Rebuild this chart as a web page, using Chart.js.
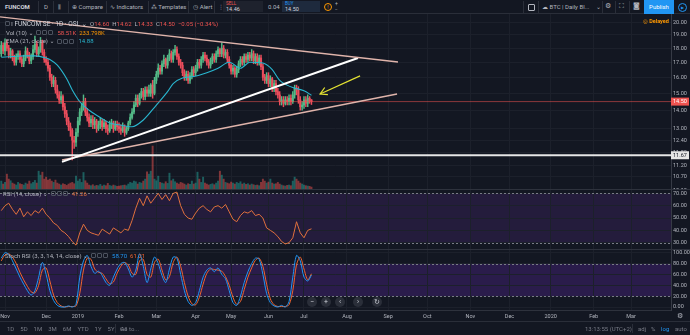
<!DOCTYPE html>
<html lang="es">
<head>
<meta charset="utf-8">
<title>FUNCOM SE · 1D · OSL</title>
<script src="https://cdn.jsdelivr.net/npm/chart.js@4.4.1/dist/chart.umd.min.js"></script>
<style>
  html, body { margin: 0; padding: 0; }
  body {
    width: 690px; height: 335px; position: relative; overflow: hidden;
    background: #131722; color: #b2b5be;
    font-family: Roboto, "Open Sans", "DejaVu Sans", sans-serif; font-size: 6px;
  }
  canvas { position: absolute; left: 0; }
  .t { position: absolute; white-space: nowrap; line-height: 7px; }
  .sep { position: absolute; background: #2a2e39; }
  .ico { display: inline-block; width: 3px; height: 3px; border: 1px solid #4c525e; border-radius: 1px; margin-right: 1px; vertical-align: -0.5px; }
  #top { position: absolute; left: 0; top: 0; width: 690px; height: 13px; background: #131722; border-bottom: 1px solid #2a2e39; }
  .btn { position: absolute; top: 3px; font-size: 6px; line-height: 7px; white-space: nowrap; color: #b2b5be; }
  .vs { position: absolute; top: 1px; width: 1px; height: 12px; background: #2a2e39; }
  .zb { position: absolute; top: 297px; width: 10px; height: 10px; border-radius: 50%; background: #2a2e39; color: #d1d4dc; font-size: 7px; line-height: 10px; text-align: center; }
</style>
</head>
<body>

<!-- ── barra superior ── -->
<div id="top">
  <div class="btn" style="left:5px;font-weight:bold;color:#d1d4dc">FUNCOM</div>
  <div class="vs" style="left:38px"></div>
  <div class="btn" style="left:44px">D</div>
  <div class="vs" style="left:53px"></div>
  <div class="btn" style="left:58px">⫼</div>
  <div class="vs" style="left:68px"></div>
  <div class="btn" style="left:72px">⊕ Compare</div>
  <div class="vs" style="left:106px"></div>
  <div class="btn" style="left:110px">∿ Indicators</div>
  <div class="vs" style="left:148px"></div>
  <div class="btn" style="left:151px">⁂ Templates</div>
  <div class="vs" style="left:188px"></div>
  <div class="btn" style="left:193px">◷ Alert</div>
  <div class="vs" style="left:214px"></div>
  <div class="btn" style="left:218px">⋮</div>
  <div style="position:absolute;left:223px;top:1px;width:40px;height:11px;background:#1e222d"></div>
  <div class="btn" style="left:226px;top:1px;font-size:4.5px;line-height:5px;color:#ef5350">SELL</div>
  <div class="btn" style="left:226px;top:6px;font-size:5.5px;line-height:6px;color:#d1d4dc">14.46</div>
  <div class="btn" style="left:268px">0.04</div>
  <div style="position:absolute;left:282px;top:1px;width:38px;height:11px;background:#1e2a3d"></div>
  <div class="btn" style="left:285px;top:1px;font-size:4.5px;line-height:5px;color:#2196f3">BUY</div>
  <div class="btn" style="left:285px;top:6px;font-size:5.5px;line-height:6px;color:#d1d4dc">14.50</div>
  <div style="position:absolute;left:324px;top:3px;width:6px;height:6px;border:1px solid #ff9800;border-radius:50%;color:#ff9800;font-size:5px;line-height:6px;text-align:center">!</div>
  <div class="btn" style="left:335px;top:0px;font-size:5px">+</div>
  <div class="btn" style="left:335px;top:6px;font-size:5px">−</div>

  <div class="vs" style="left:523px"></div>
  <div style="position:absolute;left:528px;top:4px;width:5px;height:5px;border:1px solid #b2b5be;border-radius:1px"></div>
  <div class="vs" style="left:538px"></div>
  <div class="btn" style="left:542px">☁ BTC | Daily Bl...</div>
  <div class="btn" style="left:596px">⌄</div>
  <div class="vs" style="left:602px"></div>
  <div class="btn" style="left:605px;font-size:7px">⚙</div>
  <div class="vs" style="left:615px"></div>
  <div class="btn" style="left:619px;font-size:7px">⛶</div>
  <div class="vs" style="left:629px"></div>
  <div class="btn" style="left:633px;font-size:7px">◙</div>
  <div style="position:absolute;left:644px;top:0;width:30px;height:14px;background:#2196f3;color:#fff;font-size:6px;line-height:14px;text-align:center">Publish</div>
  <div style="position:absolute;left:678px;top:3px;width:7px;height:7px;border:1px solid #2196f3;border-radius:50%;color:#2196f3;font-size:4px;line-height:7px;text-align:center">▶</div>
</div>

<canvas id="priceCanvas" width="690" height="175" style="top:14px"></canvas>
<div class="sep" style="left:0;top:189px;width:690px;height:1px;background:#2e323d"></div>
<canvas id="rsiCanvas" width="690" height="59" style="top:190px"></canvas>
<div class="sep" style="left:0;top:249px;width:690px;height:1px;background:#2e323d"></div>
<canvas id="stochCanvas" width="690" height="72" style="top:250px"></canvas>

<!-- ── leyendas ── -->
<div class="t" style="left:5px;top:19.5px"><span class="ico"></span><span style="color:#d1d4dc">⁞</span>
  <span style="color:#d1d4dc;font-size:6.5px">FUNCOM SE · 1D · OSL ⌄</span>&nbsp;
  <span>O</span><span style="color:#ef5350">14.60</span>&nbsp;
  <span>H</span><span style="color:#ef5350">14.62</span>&nbsp;
  <span>L</span><span style="color:#ef5350">14.33</span>&nbsp;
  <span>C</span><span style="color:#ef5350">14.50</span>&nbsp;
  <span style="color:#ef5350">−0.05 (−0.34%)</span></div>
<div class="t" style="left:6px;top:28.5px">Vol (10) ⌄&nbsp;&nbsp;<span class="ico"></span><span class="ico"></span><span class="ico"></span>&nbsp;
  <span style="color:#ef5350">58.51K</span>&nbsp; <span style="color:#ff9800">233.798K</span></div>
<div class="t" style="left:6px;top:37px">EMA (21, close) ⌄&nbsp;&nbsp;<span class="ico"></span><span class="ico"></span><span class="ico"></span>&nbsp;
  <span style="color:#29b6cf">14.88</span></div>
<div class="t" style="left:643px;top:17.5px;color:#ff9800;font-weight:bold;font-size:5.5px">◎ Delayed</div>

<div class="t" style="left:3px;top:189.5px">RSI (14, close) ⌄&nbsp;&nbsp;<span class="ico"></span><span class="ico"></span><span class="ico"></span>&nbsp;
  <span style="color:#e0703c">41.26</span></div>
<div class="t" style="left:5px;top:251.5px">Stoch RSI (3, 3, 14, 14, close) ⌄&nbsp;&nbsp;<span class="ico"></span><span class="ico"></span><span class="ico"></span>&nbsp;
  <span style="color:#2196f3">58.70</span>&nbsp; <span style="color:#f0642f">61.21</span></div>

<div class="zb" style="left:307px">−</div>
<div class="zb" style="left:321px">+</div>
<div class="zb" style="left:335px">‹</div>
<div class="zb" style="left:353px">›</div>
<div class="zb" style="left:372px">↻</div>
<div class="t" style="left:677px;top:312.5px;font-size:7px">⚙</div>

<!-- ── barra inferior ── -->
<div class="sep" style="left:0;top:321px;width:690px;height:1px"></div>
<div class="t" style="left:7px;top:325px;color:#787b86;word-spacing:4.5px">1D 5D 1M 3M 6M YTD 1Y 5Y All</div>
<div class="vs" style="left:115px;top:324px;height:9px"></div>
<div class="t" style="left:120px;top:325px;color:#787b86">Go to...</div>
<div class="t" style="left:585px;top:325px;color:#787b86">13:13:55 (UTC+2)</div>
<div class="vs" style="left:632px;top:324px;height:9px"></div>
<div class="t" style="left:638px;top:325px;color:#787b86">adj</div>
<div class="t" style="left:651px;top:325px;color:#787b86">%</div>
<div class="t" style="left:661px;top:325px;color:#2196f3">log</div>
<div class="t" style="left:675px;top:325px;color:#787b86">auto</div>

<script>
// ═══════════════════════════════════════════════════════
//  FUNCOM SE · 1D — velas, EMA, RSI y Stoch RSI
// ═══════════════════════════════════════════════════════

// ── Velas diarias (índice de sesión; 0 = 1 nov 2018) ──
const firstBar = -2;
const opens = [
  17.6,18.2,17.8,18.4,18.0,17.5,17.8,17.3,17.0,17.4,17.6,17.2,16.9,17.3,17.8,17.5,17.1,17.4,17.9,18.3,17.6,17.9,18.4,17.7,
  17.2,17.0,16.6,16.0,15.6,15.8,15.2,14.9,14.6,14.8,14.2,13.8,13.4,13.1,12.9,12.4,12.3,
  12.8,13.4,13.9,14.2,14.5,13.9,13.6,13.3,13.5,13.2,13.4,13.0,13.2,13.4,13.1,13.3,13.0,12.9,13.2,13.3,13.0,13.2,
  13.1,13.0,12.9,13.1,12.8,13.0,13.3,13.6,13.9,14.3,14.7,14.4,14.9,15.1,14.8,15.2,15.0,15.0,15.5,15.0,
  15.8,16.2,16.6,16.4,16.9,17.2,16.8,17.3,17.6,17.2,17.7,17.9,17.4,17.0,16.8,16.3,16.0,16.2,15.8,16.1,16.5,
  16.3,16.6,17.0,16.8,17.2,17.5,17.3,17.0,16.8,17.1,17.4,17.2,17.6,17.9,17.6,18.0,17.5,17.7,17.2,
  16.8,16.4,16.6,16.2,16.5,16.9,17.2,17.0,17.4,17.2,17.5,17.3,17.6,17.1,17.4,17.0,17.3,16.7,16.0,15.8,
  16.1,15.6,15.9,15.3,15.6,15.1,14.9,14.5,14.6,14.4,14.6,14.5,14.7,14.5,14.9,15.3,15.2,14.6,14.2,
  14.3,14.6,14.4,14.7,14.60,
];
const highs = [
  18.5,18.4,18.7,18.6,18.2,18.0,17.9,17.5,17.6,17.8,17.8,17.4,17.5,18.1,18.0,17.7,17.6,18.2,18.9,18.5,18.1,18.8,18.6,17.9,
  17.4,17.2,16.8,16.2,16.1,16.0,15.5,15.1,15.1,14.9,14.4,14.0,13.6,13.3,13.0,12.6,13.0,
  13.6,14.1,14.4,14.9,14.7,14.1,13.8,13.7,13.7,13.6,13.5,13.4,13.6,13.5,13.5,13.4,13.2,13.4,13.5,13.4,13.4,13.4,
  13.3,13.2,13.3,13.2,13.1,13.4,13.8,14.1,14.5,14.9,14.9,15.0,15.3,15.3,15.4,15.4,15.5,15.6,15.8,16.0,
  16.4,16.9,16.8,17.1,17.5,17.3,17.5,17.9,17.8,17.9,18.2,18.1,17.6,17.2,17.0,16.5,16.4,16.4,16.3,16.7,16.7,
  16.8,17.2,17.2,17.4,17.7,17.7,17.5,17.2,17.3,17.6,17.6,17.8,18.1,18.0,18.4,18.2,17.9,17.9,17.4,
  16.9,16.8,16.7,16.7,17.1,17.4,17.4,17.6,17.6,17.7,17.7,17.9,17.8,17.6,17.6,17.5,17.5,16.9,16.2,16.3,
  16.3,16.1,16.0,15.8,15.8,15.3,15.1,14.8,14.8,14.8,14.8,14.9,14.9,15.1,15.5,15.5,15.4,14.8,14.5,
  14.8,14.8,14.9,14.8,14.62,
];
const lows = [
  17.4,17.6,17.5,17.8,17.3,17.3,17.1,16.8,16.8,17.2,17.0,16.7,16.7,17.1,17.3,16.9,16.9,17.2,17.7,17.4,17.4,17.7,17.5,17.0,
  16.8,16.4,15.8,15.4,15.4,15.0,14.7,14.4,14.4,14.0,13.6,13.2,12.9,12.6,11.45,12.0,12.1,
  12.6,13.2,13.7,14.0,13.7,13.4,13.1,13.1,13.0,13.0,12.8,12.9,13.0,12.9,13.0,12.8,12.7,12.8,13.0,12.8,12.9,12.9,
  12.8,12.7,12.8,12.6,12.7,12.9,13.2,13.5,13.8,14.2,14.2,14.3,14.7,14.6,14.6,14.8,14.8,14.8,14.7,14.9,
  15.6,16.0,16.2,16.2,16.7,16.6,16.6,17.1,17.0,17.0,17.5,17.2,16.8,16.6,16.1,15.8,15.8,15.6,15.6,15.9,16.1,
  16.1,16.4,16.6,16.6,17.0,17.1,16.8,16.6,16.6,16.9,17.0,17.0,17.4,17.4,17.4,17.3,17.3,17.0,16.6,
  16.2,16.2,16.0,16.0,16.3,16.7,16.8,16.8,17.0,17.0,17.1,17.1,16.9,16.9,16.8,16.8,16.5,15.8,15.6,15.6,
  15.4,15.4,15.1,15.1,14.9,14.7,14.3,14.3,14.2,14.3,14.3,14.3,14.3,14.4,14.7,14.9,14.4,14.0,14.0,
  14.1,14.2,14.2,14.4,14.33,
];
const closes = [
  18.2,17.8,18.4,18.0,17.5,17.8,17.3,17.0,17.4,17.6,17.2,16.9,17.3,17.8,17.5,17.1,17.4,17.9,18.3,17.6,17.9,18.4,17.7,17.2,
  17.0,16.6,16.0,15.6,15.8,15.2,14.9,14.6,14.8,14.2,13.8,13.4,13.1,12.9,12.4,12.3,12.8,
  13.4,13.9,14.2,14.5,13.9,13.6,13.3,13.5,13.2,13.4,13.0,13.2,13.4,13.1,13.3,13.0,12.9,13.2,13.3,13.0,13.2,13.1,
  13.0,12.9,13.1,12.8,13.0,13.3,13.6,13.9,14.3,14.7,14.4,14.9,15.1,14.8,15.2,15.0,15.2,15.5,15.0,15.8,
  16.2,16.6,16.4,16.9,17.2,16.8,17.3,17.6,17.2,17.7,17.9,17.4,17.0,16.8,16.3,16.0,16.2,15.8,16.1,16.5,16.3,
  16.6,17.0,16.8,17.2,17.5,17.3,17.0,16.8,17.1,17.4,17.2,17.6,17.9,17.6,18.0,17.5,17.7,17.2,16.8,
  16.4,16.6,16.2,16.5,16.9,17.2,17.0,17.4,17.2,17.5,17.3,17.6,17.1,17.4,17.0,17.3,16.7,16.0,15.8,16.1,
  15.6,15.9,15.3,15.6,15.1,14.9,14.5,14.6,14.4,14.6,14.5,14.7,14.5,14.9,15.3,15.2,14.6,14.2,14.3,
  14.6,14.4,14.7,14.55,14.50,
];
const volumes = [   // miles de acciones
  240,150,200,450,300,250,180,150,120,200,160,140,120,180,150,240,160,200,260,180,540,420,510,300,
  360,270,300,240,200,270,180,150,120,160,140,110,150,180,200,160,390,
  240,300,200,500,250,180,120,100,130,90,110,100,140,90,120,100,170,110,90,120,100,80,
  90,100,110,120,100,150,200,180,240,220,150,200,180,240,300,520,450,540,1300,300,
  250,390,200,180,160,220,170,480,250,300,220,180,150,200,180,150,120,160,140,240,150,
  180,510,300,200,360,180,150,120,140,160,130,180,240,540,420,300,200,180,160,
  210,180,150,200,170,220,150,180,140,160,120,150,130,110,120,100,200,300,240,180,
  210,300,180,150,160,200,150,120,100,90,110,120,100,240,360,300,240,180,150,
  120,100,90,80,58.51,
];

const emaIdx  = [-2, 4, 10, 16, 22, 24, 28, 33, 36, 40, 45, 51, 56, 61, 68, 74, 81, 87, 90, 95, 101, 108, 114, 120, 126, 131, 138, 143, 147, 151, 154, 160, 164];
const emaVals = [17.35, 17.4, 17.45, 17.45, 17.3, 17.2, 16.8, 15.9, 15.2, 14.5, 14.0, 13.6, 13.3, 13.2, 13.1, 13.46, 14.3, 15.1, 15.6, 15.95, 16.05, 16.3, 16.6, 17.0, 16.6, 17.0, 16.95, 16.5, 15.8, 15.5, 15.35, 15.15, 14.88];

// ── Osciladores, una lectura cada 2 sesiones ──
const oscStart = -2, oscStep = 2;
const rsiVals = [
  56,60,62,57,53,58,51,55,52,56,54,58,53,50,46,44,40,38,35,31,28,38,45,40,38,37,36,41,39,37,
  42,40,38,41,40,48,58,66,60,68,62,66,70,65,69,64,70,71,60,53,50,49,54,58,60,57,55,59,60,58,
  61,55,49,47,52,55,54,56,52,53,50,42,40,38,35,31,29,30,34,47,38,34,40,41.26,
];
const stochK = [
  90,100,97,85,70,55,42,30,22,30,55,82,60,30,12,3,0,0,2,0,
  5,55,85,95,75,62,66,58,45,40,55,70,80,82,70,55,68,98,75,45,
  70,92,80,58,45,70,92,90,60,30,10,3,8,30,55,68,72,65,72,60,
  52,30,8,3,20,45,65,80,90,88,60,25,8,2,0,3,0,10,55,95,85,55,48,58.7,
];
const stochD = [
  85,96,98,92,80,64,50,38,28,26,40,68,72,48,22,8,2,0,1,1,
  2,25,68,90,88,70,64,62,52,43,46,62,75,82,77,62,60,85,88,60,
  55,82,88,68,50,56,82,92,75,45,20,6,4,18,42,62,70,69,68,66,
  56,40,18,5,10,32,55,72,86,90,75,42,15,4,1,1,1,4,30,78,92,70,50,61.21,
];

// ── Ejes ──
const monthIdx    = [0, 22, 39, 61, 81, 102, 121, 141, 160, 183, 205, 226, 249, 270, 292, 315, 335];
const monthLabels = ['Nov', 'Dec', '2019', 'Feb', 'Mar', 'Apr', 'May', 'Jun', 'Jul', 'Aug', 'Sep', 'Oct', 'Nov', 'Dec', '2020', 'Feb', 'Mar'];
const priceTicks  = [20, 19, 18, 17, 16, 15, 14, 13, 12.4, 11.8, 11.2, 10.7, 10.1];
const rsiTicks    = [70, 60, 50, 40, 30];
const stochTicks  = [100, 80, 60, 40, 20, 0];
const rsiBand     = [30, 70];
const stochBand   = [20, 80];

// ── Dibujos (índice de sesión, precio) ──
const lastPrice    = 14.50;
const supportLevel = 11.67;
const upperLine    = [[-2.68, 20.43], [210.3, 17.02]];
const risingLine   = [[30.5, 11.36], [188.9, 17.30]];
const lowerLine    = [[30.5, 11.45], [209.8, 14.95]];
const arrowShaft   = [[190.0, 16.09], [168.6, 14.95]];
const arrowHead    = [[172.8, 14.91], [168.6, 14.95], [171.1, 15.35]];

const X_MIN = -2.68, X_MAX = 356.4;
const UP = '#53b987', DOWN = '#eb4d5c';
const GRID = '#1c202b';

Chart.defaults.font.family = 'Roboto, "Open Sans", sans-serif';
Chart.defaults.font.size = 5.5;
Chart.defaults.color = '#b2b5be';
Chart.defaults.animation = false;
Chart.defaults.events = [];
Chart.defaults.plugins.legend.display = false;
Chart.defaults.plugins.tooltip.enabled = false;

// bandas de fondo, líneas punteadas y etiquetas de precio en el eje
const paneDecor = {
  id: 'paneDecor',
  beforeDraw(chart, _a, o) {
    if (!o.band) return;
    const { ctx, chartArea: a } = chart, y = chart.scales.y;
    const t = y.getPixelForValue(o.band[1]), b = y.getPixelForValue(o.band[0]);
    ctx.save();
    ctx.fillStyle = o.bandColor;
    ctx.fillRect(a.left, t, a.right - a.left, b - t);
    ctx.restore();
  },
  beforeDatasetsDraw(chart, _a, o) {
    if (!o.band) return;
    const { ctx, chartArea: a } = chart, y = chart.scales.y;
    ctx.save();
    ctx.strokeStyle = '#787b86';
    ctx.lineWidth = 1;
    ctx.setLineDash([2, 2]);
    o.band.forEach(v => {
      const py = Math.round(y.getPixelForValue(v)) + 0.5;
      ctx.beginPath(); ctx.moveTo(a.left, py); ctx.lineTo(a.right, py); ctx.stroke();
    });
    ctx.restore();
  },
  afterDraw(chart, _a, o) {
    if (!o.boxes) return;
    const { ctx } = chart, y = chart.scales.y;
    o.boxes.forEach(b => {
      const py = y.getPixelForValue(b.value);
      ctx.save();
      ctx.fillStyle = b.bg;
      ctx.fillRect(y.left, py - 4, y.width - 1, 8);
      ctx.fillStyle = b.fg;
      ctx.font = '5.5px Roboto';
      ctx.textBaseline = 'middle';
      ctx.fillText(b.value.toFixed(2), y.left + 2, py + 0.5);
      ctx.restore();
    });
  },
};
Chart.register(paneDecor);

// sin márgenes extra por las etiquetas de los extremos
const noPad = s => { s.paddingTop = 0; s.paddingBottom = 0; s.paddingLeft = 0; s.paddingRight = 0; };

function xAxis(showLabels) {
  return {
    type: 'linear', min: X_MIN, max: X_MAX, offset: false,
    grid: { color: GRID, drawTicks: false, offset: false },
    border: { display: showLabels, color: '#2e323d' },
    ticks: {
      display: showLabels, autoSkip: false, maxRotation: 0, padding: 3,
      callback: v => monthLabels[monthIdx.indexOf(v)],
    },
    afterBuildTicks: s => { s.ticks = monthIdx.map(v => ({ value: v })); },
    afterFit: s => { s.height = showLabels ? 12 : 0; noPad(s); },
  };
}
function yAxis(type, min, max, ticks) {
  return {
    type, position: 'right', min, max, beginAtZero: false,
    grid: { color: GRID, drawTicks: false },
    border: { color: '#363a45' },
    ticks: { padding: 2, autoSkip: false, callback: v => Number(v).toFixed(2) },
    afterBuildTicks: s => { s.ticks = ticks.map(v => ({ value: v })); },
    afterFit: s => { s.width = 19; noPad(s); },
  };
}
const pts = arr => arr.map(([x, y]) => ({ x, y }));
const seg = (arr, color, width, order) => ({
  type: 'line', data: pts(arr), borderColor: color, borderWidth: width,
  pointRadius: 0, fill: false, order,
});
const candleColor = (alpha) => c =>
  closes[c.dataIndex] >= opens[c.dataIndex]
    ? (alpha ? 'rgba(38,166,154,' + alpha + ')' : UP)
    : (alpha ? 'rgba(239,83,80,' + alpha + ')' : DOWN);
const barX = i => firstBar + i;

// ── Panel de precio ──
new Chart(document.getElementById('priceCanvas'), {
  type: 'bar',
  data: {
    datasets: [
      { type: 'bar', yAxisID: 'yv', data: volumes.map((v, i) => ({ x: barX(i), y: v })),
        backgroundColor: candleColor(0.5), barThickness: 1.3, grouped: false, order: 10 },
      { type: 'bar', data: lows.map((l, i) => ({ x: barX(i), y: [l, highs[i]] })),
        backgroundColor: candleColor(0), barThickness: 0.8, grouped: false, order: 8 },
      { type: 'bar', data: opens.map((o, i) => ({ x: barX(i), y: [o, closes[i]] })),
        backgroundColor: candleColor(0), barThickness: 1.4, minBarLength: 1, grouped: false, order: 7 },
      { type: 'line', data: emaIdx.map((x, i) => ({ x, y: emaVals[i] })),
        borderColor: '#29b6cf', borderWidth: 1.1, pointRadius: 0, fill: false,
        cubicInterpolationMode: 'monotone', order: 5 },
      seg([[X_MIN, lastPrice], [X_MAX, lastPrice]], 'rgba(239,83,80,0.55)', 1, 4),
      seg([[X_MIN, supportLevel], [X_MAX, supportLevel]], '#e6e6e6', 2, 4),
      seg(upperLine, '#e0b4ab', 1.4, 2),
      seg(risingLine, '#ffffff', 2, 2),
      seg(lowerLine, '#e0b4ab', 1.4, 2),
      seg(arrowShaft, '#e4e232', 1.2, 1),
      seg(arrowHead, '#e4e232', 1.2, 1),
    ],
  },
  options: {
    responsive: false,
    layout: { padding: 0 },
    scales: {
      x: xAxis(false),
      y: yAxis('logarithmic', 10.18, 20.67, priceTicks),
      yv: { type: 'linear', display: false, min: 0, max: 5300 },
    },
    plugins: {
      paneDecor: { boxes: [
        { value: lastPrice, bg: '#ef5350', fg: '#ffffff' },
        { value: supportLevel, bg: '#e6e6e6', fg: '#131722' },
      ] },
    },
  },
});

// ── RSI ──
new Chart(document.getElementById('rsiCanvas'), {
  type: 'line',
  data: {
    datasets: [{
      data: rsiVals.map((v, i) => ({ x: oscStart + i * oscStep, y: v })),
      borderColor: '#e0703c', borderWidth: 1, pointRadius: 0, fill: false,
    }],
  },
  options: {
    responsive: false,
    layout: { padding: 0 },
    scales: { x: xAxis(false), y: yAxis('linear', 24.9, 72.7, rsiTicks) },
    plugins: { paneDecor: { band: rsiBand, bandColor: '#241c3c' } },
  },
});

// ── Stoch RSI ──
new Chart(document.getElementById('stochCanvas'), {
  type: 'line',
  data: {
    datasets: [
      { data: stochK.map((v, i) => ({ x: oscStart + i * oscStep, y: v })),
        borderColor: '#2196f3', borderWidth: 1, pointRadius: 0, fill: false, tension: 0.3 },
      { data: stochD.map((v, i) => ({ x: oscStart + i * oscStep, y: v })),
        borderColor: '#f0642f', borderWidth: 1, pointRadius: 0, fill: false, tension: 0.3 },
    ],
  },
  options: {
    responsive: false,
    layout: { padding: 0 },
    scales: { x: xAxis(true), y: yAxis('linear', -5.5, 105, stochTicks) },
    plugins: { paneDecor: { band: stochBand, bandColor: '#2a1c4b' } },
  },
});
</script>
</body>
</html>
